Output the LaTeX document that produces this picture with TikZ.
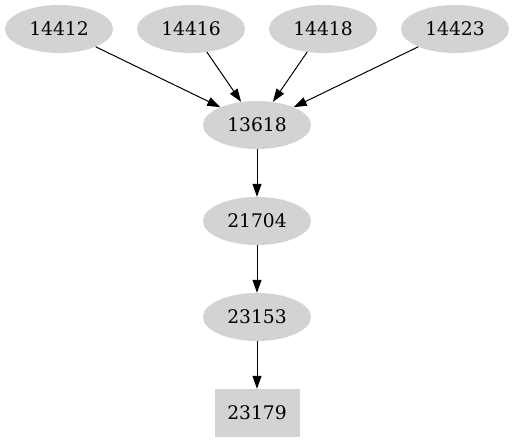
\documentclass[tikz,border=0pt]{standalone}
\usepackage{fontspec}
\setmainfont{DejaVu Serif}
\usetikzlibrary{arrows.meta,shapes.geometric}
\definecolor{nodegray}{HTML}{D3D3D3}
\tikzset{
  vert/.style={ellipse,fill=nodegray,minimum width=108pt,minimum height=48pt,inner sep=0pt,font=\fontsize{18.7}{22}\selectfont},
  sinkbox/.style={rectangle,fill=nodegray,minimum width=85pt,minimum height=48pt,inner sep=0pt,font=\fontsize{18.7}{22}\selectfont},
  link/.style={-{Triangle[length=13pt,width=9pt]},line width=1pt}
}
\begin{document}
\begin{tikzpicture}[x=1pt,y=1pt]
\useasboundingbox (0,0) rectangle (514,-443);
\foreach \x/\lab in {59/14412,191/14416,323/14418,455/14423}{
  \node[vert] (n\lab) at (\x,-29) {\lab};
}
\node[vert] (n13618) at (257,-125) {13618};
\node[vert] (n21704) at (257,-221) {21704};
\node[vert] (n23153) at (257,-317) {23153};
\node[sinkbox] (n23179) at (257,-413) {23179};
\foreach \lab in {14412,14416,14418,14423}{
  \draw[link] (n\lab) -- (n13618);
}
\draw[link] (n13618) -- (n21704);
\draw[link] (n21704) -- (n23153);
\draw[link] (n23153) -- (n23179);
\end{tikzpicture}
\end{document}
